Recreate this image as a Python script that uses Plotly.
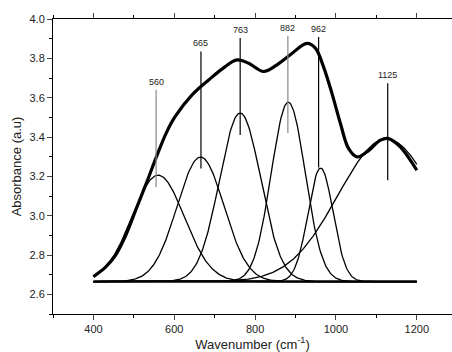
import plotly.graph_objects as go
import numpy as np

# ---- data ----
env_x = [400, 430, 455, 480, 505, 530, 556, 580, 602, 644, 685, 726, 755, 784, 821, 854, 887, 928, 949, 969, 990, 1011, 1031, 1052, 1077, 1110, 1130, 1159, 1200]
env_y = [2.69, 2.738, 2.80, 2.90, 3.03, 3.16, 3.30, 3.42, 3.503, 3.614, 3.69, 3.758, 3.792, 3.775, 3.733, 3.767, 3.818, 3.876, 3.852, 3.758, 3.622, 3.469, 3.342, 3.299, 3.325, 3.384, 3.392, 3.35, 3.231]

peak_labels = ["560", "665", "763", "882", "962", "1125"]
peak_centers = [560, 665, 763, 882, 962, 1125]
peak_tops = [3.206, 3.298, 3.522, 3.577, 3.242, 3.39]
peak_sigmas = [65, 58, 51, 42, 31, 120]
baseline = 2.665

marker_x = [555, 666, 763, 881, 957, 1128]
marker_top = [3.64, 3.835, 3.903, 3.915, 3.908, 3.673]
marker_bottom = [3.146, 3.24, 3.41, 3.42, 3.245, 3.18]
marker_colors = ["#888888", "#000000", "#000000", "#888888", "#000000", "#000000"]

x_range = [300, 1287]
y_range = [2.5, 4.0]
x_ticks = [400, 600, 800, 1000, 1200]
y_ticks = [2.6, 2.8, 3.0, 3.2, 3.4, 3.6, 3.8, 4.0]

FONT = "Arial, Liberation Sans, sans-serif"

fig = go.Figure()

# baseline
fig.add_trace(go.Scatter(x=[400, 1200], y=[baseline, baseline], mode="lines",
                         line=dict(color="black", width=2.5), hoverinfo="skip"))

# gaussian components
xs = np.arange(400, 1201, 2)
for c, top, s in zip(peak_centers, peak_tops, peak_sigmas):
    ys = baseline + (top - baseline) * np.exp(-(xs - c) ** 2 / (2 * s ** 2))
    fig.add_trace(go.Scatter(x=xs, y=ys, mode="lines",
                             line=dict(color="black", width=1.3), hoverinfo="skip"))

# measured envelope
fig.add_trace(go.Scatter(x=env_x, y=env_y, mode="lines",
                         line=dict(color="black", width=3.2, shape="spline", smoothing=1.0),
                         hoverinfo="skip"))

# peak marker lines and labels
for lab, mx, t, b, col in zip(peak_labels, marker_x, marker_top, marker_bottom, marker_colors):
    fig.add_shape(type="line", x0=mx, x1=mx, y0=b, y1=t, xref="x", yref="y",
                  line=dict(color=col, width=1.2))
    fig.add_annotation(x=mx, y=t, text=lab, showarrow=False, yanchor="bottom",
                       yshift=1, font=dict(family=FONT, size=9, color="#222222"))

fig.update_layout(
    width=452, height=352,
    margin=dict(l=53, r=0, t=19, b=38),
    paper_bgcolor="white", plot_bgcolor="white",
    showlegend=False,
    font=dict(family=FONT, size=11, color="#222222"),
)
fig.update_xaxes(
    range=x_range, tickvals=x_ticks, ticks="outside", ticklen=5, tickwidth=1,
    showline=True, linecolor="black", linewidth=1, mirror="ticks",
    showgrid=False, zeroline=False,
    minor=dict(dtick=100, tick0=300, ticks="outside", ticklen=3, tickcolor="black", showgrid=False),
    title=dict(text="Wavenumber (cm<sup>-1</sup>)", font=dict(size=13, family=FONT), standoff=2),
    tickfont=dict(size=11),
)
fig.update_yaxes(
    range=y_range, tickvals=y_ticks, tickformat=".1f", ticks="outside", ticklen=5, tickwidth=1,
    showline=True, linecolor="black", linewidth=1, mirror=False,
    showgrid=False, zeroline=False,
    minor=dict(dtick=0.1, tick0=2.5, ticks="outside", ticklen=3, tickcolor="black", showgrid=False),
    title=dict(text="Absorbance (a.u)", font=dict(size=13, family=FONT), standoff=4),
    tickfont=dict(size=11),
)

fig.write_html("out.html")
